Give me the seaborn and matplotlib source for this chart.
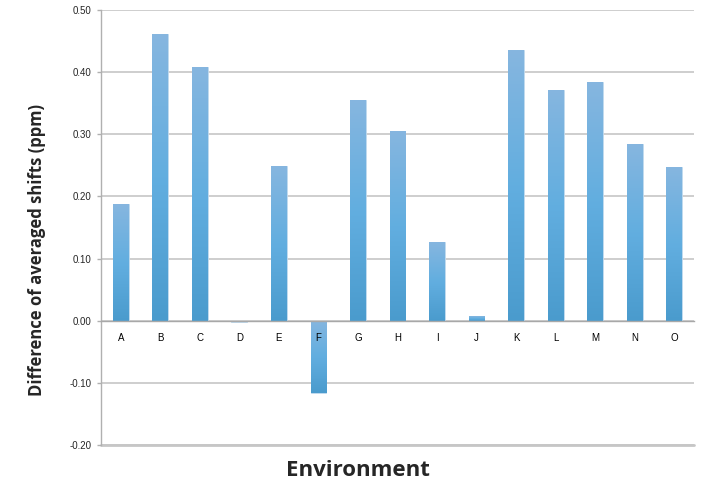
import numpy as np
import pandas as pd
import matplotlib
matplotlib.use("Agg")
import matplotlib.pyplot as plt
from matplotlib.ticker import FixedLocator, FormatStrFormatter
import seaborn as sns

# values
environments = ["A", "B", "C", "D", "E", "F", "G", "H", "I", "J", "K", "L", "M", "N", "O"]
shift_diff = [0.188, 0.461, 0.409, -0.002, 0.249, -0.116, 0.355, 0.305,
              0.127, 0.007, 0.436, 0.372, 0.384, 0.284, 0.248]
y_ticks = [-0.20, -0.10, 0.00, 0.10, 0.20, 0.30, 0.40, 0.50]

df = pd.DataFrame({"env": environments, "diff": shift_diff})

sns.set_theme(style="white")
plt.rcParams["font.family"] = ["Open Sans", "DejaVu Sans"]

fig = plt.figure(figsize=(7.04, 4.95), dpi=100)
ax = fig.add_axes([0.1435, 0.101, 0.8423, 0.8788])

sns.barplot(data=df, x="env", y="diff", color="#5aa8da", width=0.4,
            saturation=1, ax=ax, zorder=3)

# gradient fill on each bar, lighter at top
grad = np.linspace(0, 1, 256).reshape(-1, 1)
cmap = matplotlib.colors.LinearSegmentedColormap.from_list(
    "bar", ["#4a9bcd", "#62aee0", "#86b6df"])
for p in ax.patches:
    x0, y0 = p.get_x(), p.get_y()
    w, h = p.get_width(), p.get_height()
    lo, hi = min(y0, y0 + h), max(y0, y0 + h)
    if hi - lo < 1e-9:
        continue
    im = ax.imshow(grad, extent=[x0, x0 + w, lo, hi], origin="lower",
                   cmap=cmap, aspect="auto", zorder=3.5)
    im.set_clip_path(p)
    p.set_edgecolor("#c5dcef")
    p.set_linewidth(0.6)
ax.set_xlim(-0.5, len(environments) - 0.5)
ax.set_ylim(-0.2, 0.5)

# grid
ax.yaxis.set_major_locator(FixedLocator(y_ticks))
ax.yaxis.set_major_formatter(FormatStrFormatter("%.2f"))
ax.grid(axis="y", color="#c6c6c6", linewidth=1.2, zorder=0)
ax.set_axisbelow(True)
ax.axhline(-0.2, color="#c6c6c6", linewidth=2, clip_on=False, zorder=0)

for s in ["top", "right"]:
    ax.spines[s].set_visible(False)
ax.spines["left"].set_color("#b0b0b0")
ax.spines["left"].set_linewidth(1)
ax.spines["bottom"].set_position(("data", 0))
ax.spines["bottom"].set_color("#a8a8a8")
ax.spines["bottom"].set_linewidth(1)
ax.spines["bottom"].set_zorder(4)
ax.xaxis.set_zorder(5)

ax.xaxis.set_minor_locator(FixedLocator(np.arange(-0.5, len(environments), 1)))
ax.tick_params(axis="x", which="major", length=0, pad=9, labelsize=7, colors="black")
ax.tick_params(axis="x", which="minor", length=3, width=1, color="#b0b0b0", direction="out")
ax.tick_params(axis="y", length=3, width=1, color="#b0b0b0", direction="out",
               labelsize=7, pad=4, left=True)
for lbl in ax.get_xticklabels() + ax.get_yticklabels():
    lbl.set_family(["Liberation Sans", "DejaVu Sans"])

ax.set_xlabel("")
ax.set_ylabel("")
fig.text(0.509, 0.05, "Environment", fontsize=16, fontweight="bold",
         ha="center", va="center")
fig.text(0.052, 0.495, "Difference of averaged shifts (ppm)", fontsize=12,
         fontweight="bold", rotation=90, ha="center", va="center")

fig.savefig("out.png", dpi=100)
